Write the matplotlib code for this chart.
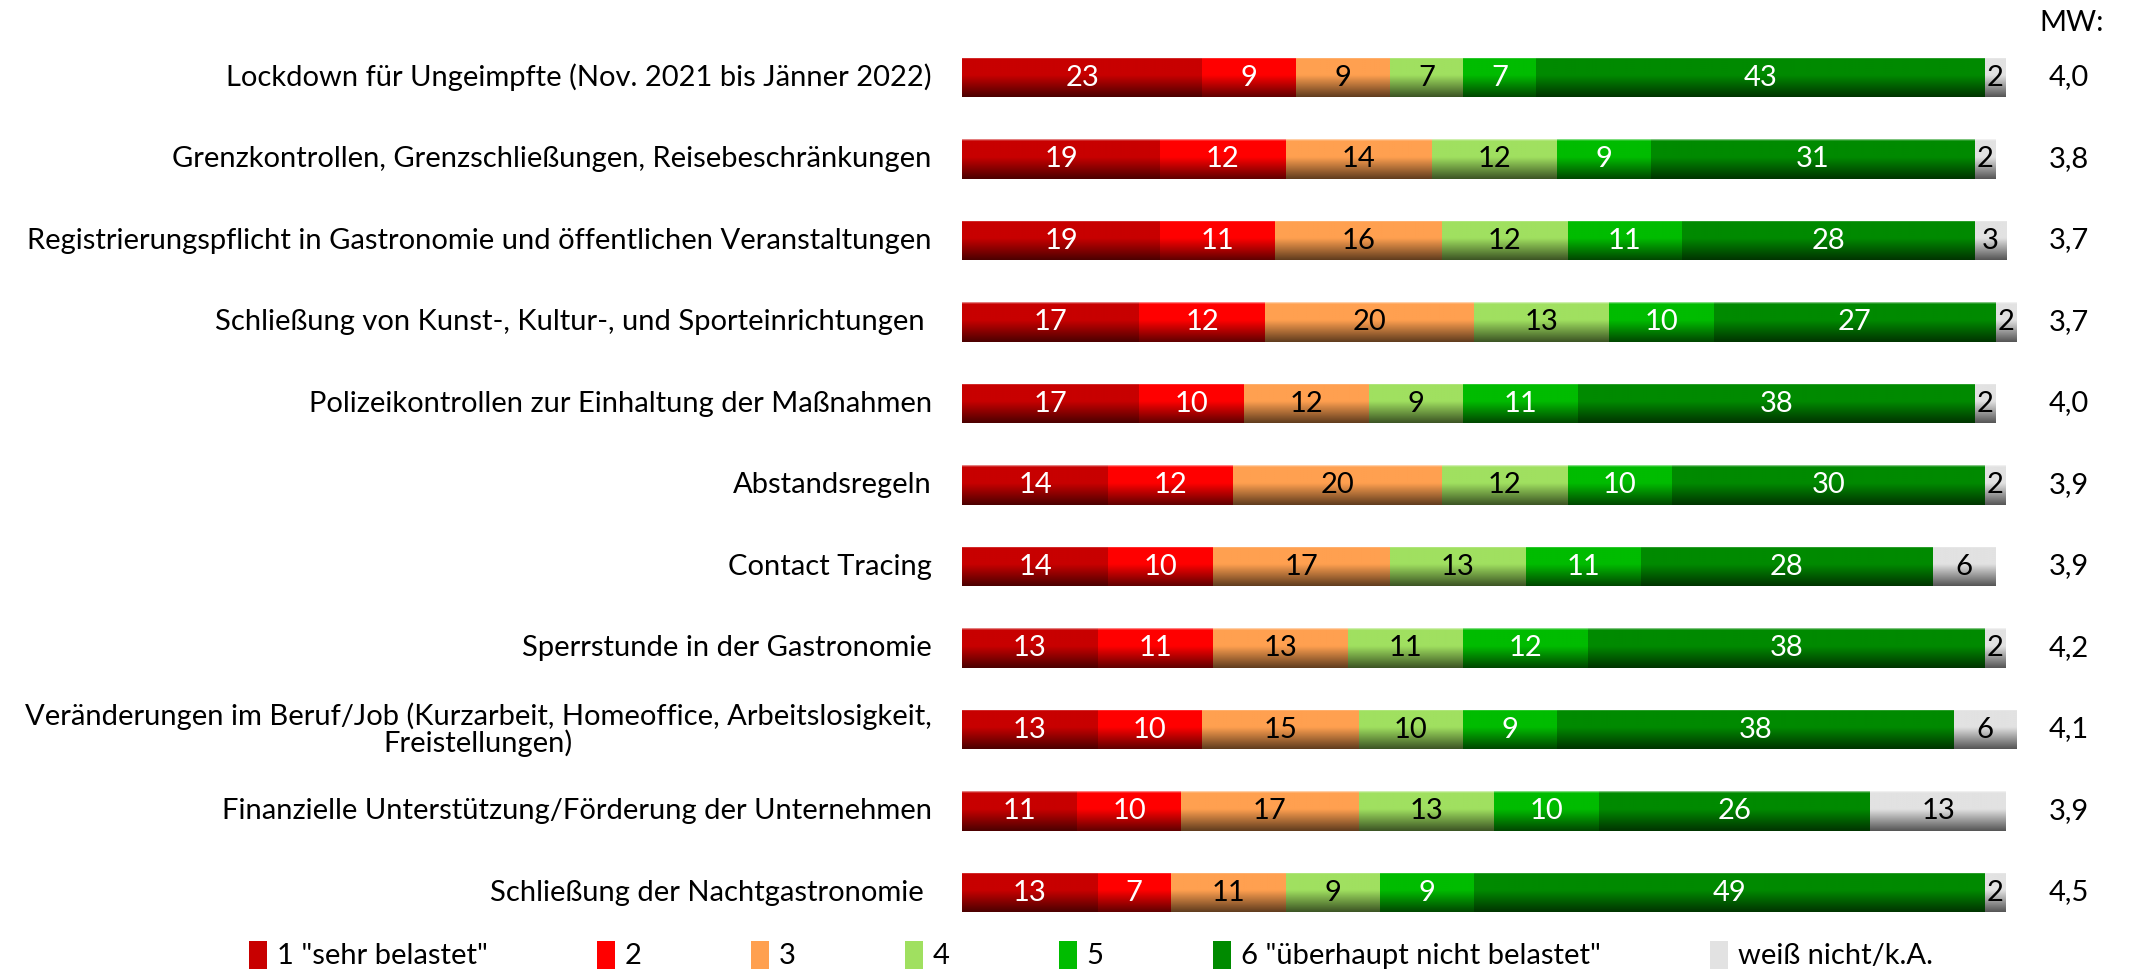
"""
stacked horizontal bars: burden of covid measures (1-6 scale), with mean values
"""

import numpy as np
import matplotlib
matplotlib.use("Agg")
import matplotlib.pyplot as plt
from matplotlib.patches import Patch

FONT = "Lato"
FS = 21

# row labels, top to bottom
labels = [
    "Lockdown für Ungeimpfte (Nov. 2021 bis Jänner 2022)",
    "Grenzkontrollen, Grenzschließungen, Reisebeschränkungen",
    "Registrierungspflicht in Gastronomie und öffentlichen Veranstaltungen",
    "Schließung von Kunst-, Kultur-, und Sporteinrichtungen ",
    "Polizeikontrollen zur Einhaltung der Maßnahmen",
    "Abstandsregeln",
    "Contact Tracing",
    "Sperrstunde in der Gastronomie",
    "Veränderungen im Beruf/Job (Kurzarbeit, Homeoffice, Arbeitslosigkeit,\nFreistellungen)",
    "Finanzielle Unterstützung/Förderung der Unternehmen",
    "Schließung der Nachtgastronomie ",
]

# percentages per answer category
v1 = [23, 19, 19, 17, 17, 14, 14, 13, 13, 11, 13]
v2 = [9, 12, 11, 12, 10, 12, 10, 11, 10, 10, 7]
v3 = [9, 14, 16, 20, 12, 20, 17, 13, 15, 17, 11]
v4 = [7, 12, 12, 13, 9, 12, 13, 11, 10, 13, 9]
v5 = [7, 9, 11, 10, 11, 10, 11, 12, 9, 10, 9]
v6 = [43, 31, 28, 27, 38, 30, 28, 38, 38, 26, 49]
v7 = [2, 2, 3, 2, 2, 2, 6, 2, 6, 13, 2]

# mean values (MW)
mw = ["4,0", "3,8", "3,7", "3,7", "4,0", "3,9", "3,9", "4,2", "4,1", "3,9", "4,5"]

series_names = ['1 "sehr belastet"', "2", "3", "4", "5",
                '6 "überhaupt nicht belastet"', "weiß nicht/k.A."]
colors = ["#C80000", "#FF0000", "#FFA050", "#A0E060", "#00BC00", "#008A00", "#E2E2E2"]
text_colors = ["white", "white", "black", "black", "white", "white", "black"]

series = [v1, v2, v3, v4, v5, v6, v7]

W, H = 2131, 971
fig = plt.figure(figsize=(W / 100, H / 100), dpi=100)

px_per_unit = 10.44
left_px = 962
xmax = (W - left_px) / px_per_unit
row_px = 81.5
top_px = 77.5 - row_px / 2
n = len(labels)
ax = fig.add_axes([left_px / W, 1 - (top_px + n * row_px) / H,
                   1 - left_px / W, n * row_px / H])

y = np.arange(n)
bar_h = 0.49


def gradient(color, rows=60):
    base = np.array(matplotlib.colors.to_rgb(color))
    t = np.linspace(0, 1, rows)
    f = np.where(t < 0.45, 1.0, 1.0 - (t - 0.45) / 0.55 * 0.62)
    img = base[None, :] * f[:, None]
    # thin light rim on top
    img[:2] = img[:2] * 0.5 + 0.5
    return img[:, None, :]


left = np.zeros(n)
for vals, col, tcol in zip(series, colors, text_colors):
    vals = np.array(vals, dtype=float)
    bars = ax.barh(y, vals, left=left, height=bar_h, color=col, edgecolor="none")
    img = gradient(col)
    for b in bars:
        x0, y0 = b.get_x(), b.get_y()
        w, h = b.get_width(), b.get_height()
        im = ax.imshow(img, extent=(x0, x0 + w, y0 + h, y0), origin="upper",
                       aspect="auto", interpolation="bilinear", zorder=2)
        im.set_clip_path(b)
    for yi, (l, v) in enumerate(zip(left, vals)):
        ax.text(l + v / 2, yi, f"{int(v)}", ha="center", va="center",
                color=tcol, fontsize=FS, family=FONT, zorder=3)
    left += vals

for yi, lab in enumerate(labels):
    ax.text(-2.9, yi, lab, ha="right", va="center", multialignment="center",
            fontsize=FS, family=FONT, linespacing=0.95)

mw_x = 106.0
for yi, m in enumerate(mw):
    ax.text(mw_x, yi, m, ha="center", va="center", fontsize=FS, family=FONT)
fig.text(2072 / W, 1 - 23 / H, "MW:", ha="center", va="center",
         fontsize=FS, family=FONT)

ax.set_xlim(0, xmax)
ax.set_ylim(n - 0.5, -0.5)
ax.axis("off")

handles = [Patch(facecolor=c, edgecolor="none") for c in colors]
fig.legend(handles, series_names, loc="center", bbox_to_anchor=(0.512, 1 - 955 / H),
           ncol=7, frameon=False, handlelength=0.6, handleheight=1.1,
           handletextpad=0.35, columnspacing=3.75,
           prop={"family": FONT, "size": FS})

fig.savefig("out.png", dpi=100)
